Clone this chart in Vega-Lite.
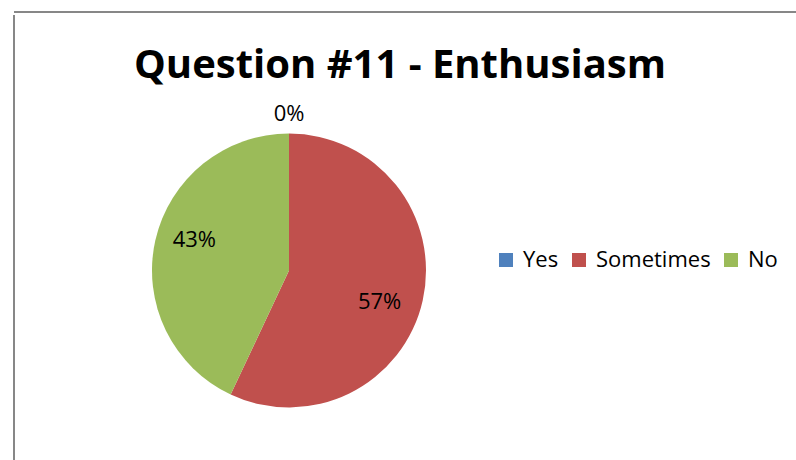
{
  "$schema": "https://vega.github.io/schema/vega-lite/v6.json",
  "padding": {"left": 13, "top": 11, "right": 0, "bottom": 0},
  "background": "white",
  "data": {"values": [
    {"answer": "Yes", "share": 0},
    {"answer": "Sometimes", "share": 0.57},
    {"answer": "No", "share": 0.43}
  ]},
  "spacing": 0,
  "config": {"font": "Open Sans"},
  "vconcat": [
    {
      "width": 783,
      "height": 1,
      "view": {"stroke": "#878787", "strokeWidth": 2, "strokeDash": [783, 5000], "fill": null},
      "transform": [{"filter": "false"}],
      "mark": "point",
      "encoding": {}
    },
    {
      "width": 550,
      "height": 511,
      "view": {"stroke": "#878787", "strokeWidth": 2, "strokeDash": [0, 1611, 511, 0], "fill": null},
      "title": {
        "text": "Question #11 - Enthusiasm",
        "font": "Open Sans",
        "fontSize": 40,
        "fontWeight": "bold",
        "color": "black",
        "anchor": "middle",
        "frame": "group",
        "dx": 111,
        "offset": -103,
        "baseline": "alphabetic"
      },
      "layer": [
        {
          "mark": {"type": "arc", "outerRadius": 137},
          "encoding": {
            "theta": {"field": "share", "type": "quantitative", "stack": true},
            "order": {"field": "answer", "type": "nominal", "sort": "descending"},
            "color": {
              "field": "answer",
              "type": "nominal",
              "sort": ["Yes", "Sometimes", "No"],
              "scale": {"domain": ["Yes", "Sometimes", "No"], "range": ["#4F81BD", "#C0504D", "#9BBB59"]},
              "legend": {
                "title": null,
                "orient": "none",
                "legendX": 481,
                "legendY": 237,
                "direction": "horizontal",
                "columns": 3,
                "symbolType": "square",
                "symbolSize": 196,
                "symbolStrokeWidth": 0,
                "labelFont": "Open Sans",
                "labelFontSize": 22,
                "labelColor": "black",
                "labelOffset": 6,
                "columnPadding": 9,
                "padding": 0
              }
            }
          }
        },
        {
          "mark": {
            "type": "text",
            "font": "Open Sans",
            "fontSize": 22,
            "color": "black",
            "radius": {"expr": "datum.answer === 'Yes' ? 157 : 99"},
            "dx": {"expr": "datum.answer === 'Sometimes' ? -6 : datum.answer === 'No' ? 2 : 0"},
            "dy": {"expr": "datum.answer === 'Sometimes' ? 10 : datum.answer === 'No' ? -9 : 0"}
          },
          "encoding": {
            "theta": {"field": "share", "type": "quantitative", "stack": true},
            "order": {"field": "answer", "type": "nominal", "sort": "descending"},
            "detail": {"field": "answer", "type": "nominal"},
            "text": {"field": "share", "type": "quantitative", "format": ".0%"}
          }
        }
      ]
    }
  ]
}
